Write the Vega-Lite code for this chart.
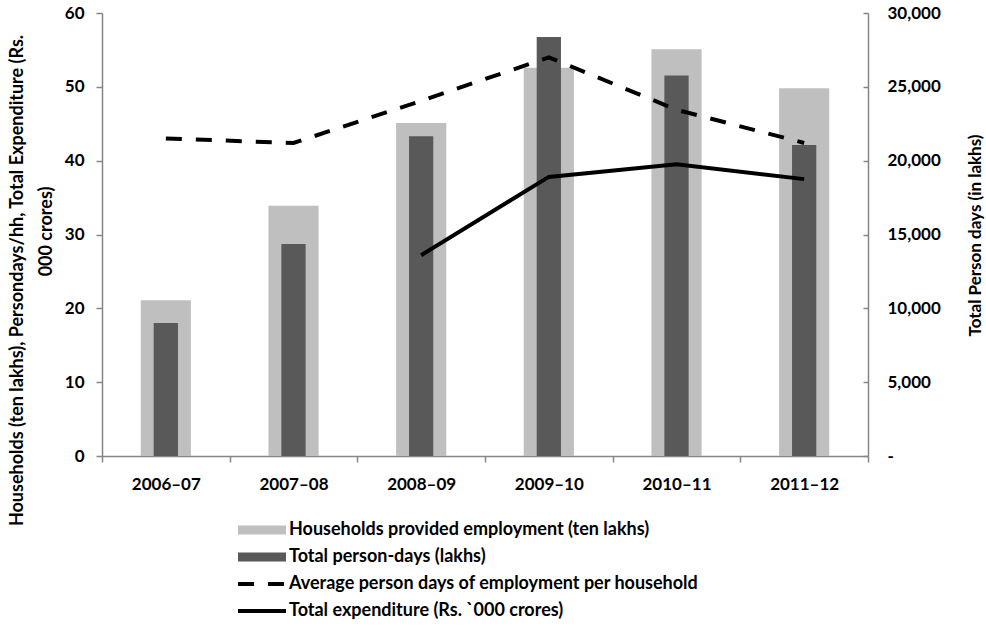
{
  "$schema": "https://vega.github.io/schema/vega-lite/v6.json",
  "width": 766,
  "height": 443,
  "autosize": {"type": "none"},
  "padding": {"left": 102, "top": 13, "right": 118, "bottom": 171},
  "background": "white",
  "config": {
    "view": {"stroke": null},
    "font": "Lato",
    "axis": {
      "labelFont": "Lato",
      "titleFont": "Lato",
      "labelFontWeight": "bold",
      "titleFontWeight": "bold",
      "labelColor": "black",
      "titleColor": "black",
      "domainColor": "#868686",
      "tickColor": "#868686",
      "domainWidth": 1.5,
      "tickWidth": 1.5,
      "grid": false,
      "labelFontSize": 17,
      "titleFontSize": 18
    }
  },
  "data": {
    "values": [
      {"year": "2006–07", "households": 21.1, "persondays": 9000, "avgdays": 43.0, "expenditure": null},
      {"year": "2007–08", "households": 33.9, "persondays": 14350, "avgdays": 42.4, "expenditure": null},
      {"year": "2008–09", "households": 45.1, "persondays": 21650, "avgdays": 48.1, "expenditure": 27.2},
      {"year": "2009–10", "households": 52.6, "persondays": 28380, "avgdays": 54.0, "expenditure": 37.8},
      {"year": "2010–11", "households": 55.1, "persondays": 25760, "avgdays": 46.9, "expenditure": 39.5},
      {"year": "2011–12", "households": 49.8, "persondays": 21060, "avgdays": 42.4, "expenditure": 37.5}
    ]
  },
  "encoding": {
    "x": {
      "field": "year",
      "type": "nominal",
      "sort": null,
      "scale": {"paddingInner": 0, "paddingOuter": 0},
      "axis": {"title": null, "labelAngle": 0, "tickBand": "extent", "tickSize": 6, "labelPadding": 14, "labelFontSize": 17}
    }
  },
  "layer": [
    {
      "mark": {"type": "bar", "width": {"band": 0.393}},
      "encoding": {
        "y": {
          "field": "households",
          "type": "quantitative",
          "scale": {"domain": [0, 60], "nice": false},
          "axis": {
            "orient": "left",
            "values": [0, 10, 20, 30, 40, 50, 60],
            "tickSize": 6,
            "labelPadding": 12,
            "title": "Households (ten lakhs), Persondays/hh, Total Expenditure (Rs.",
            "titleAngle": 270,
            "titleBaseline": "middle",
            "titleAlign": "center",
            "titleX": -85,
            "titleY": 267
          }
        },
        "color": {
          "datum": "Households provided employment (ten lakhs)",
          "type": "nominal",
          "scale": {
            "domain": [
              "Households provided employment (ten lakhs)",
              "Total person-days (lakhs)",
              "Average person days of employment per household",
              "Total expenditure (Rs. `000 crores)"
            ],
            "range": ["#bfbfbf", "#595959", "#000000", "#000000"]
          },
          "legend": {
            "title": null,
            "orient": "none",
            "legendX": 151,
            "legendY": 508,
            "direction": "vertical",
            "columns": 1,
            "gridAlign": "all",
            "labelFont": "Lato",
            "labelFontWeight": "bold",
            "labelFontSize": 18,
            "labelColor": "black",
            "labelLimit": 1000,
            "labelOffset": 18,
            "symbolSize": 144,
            "symbolStrokeWidth": 0,
            "rowPadding": 9,
            "symbolOpacity": 1,
            "encode": {
              "symbols": {
                "update": {
                  "shape": {"signal": "datum.value == 'Households provided employment (ten lakhs)' || datum.value == 'Total person-days (lakhs)' ? 'M-4,-0.75H4V0.75H-4Z' : 'M-4,0H4'"},
                  "fill": {"signal": "datum.value == 'Households provided employment (ten lakhs)' ? '#bfbfbf' : datum.value == 'Total person-days (lakhs)' ? '#595959' : 'transparent'"},
                  "stroke": {"signal": "datum.value == 'Households provided employment (ten lakhs)' || datum.value == 'Total person-days (lakhs)' ? 'transparent' : '#000000'"},
                  "strokeWidth": {"signal": "datum.value == 'Households provided employment (ten lakhs)' || datum.value == 'Total person-days (lakhs)' ? 0 : 4"},
                  "strokeDash": {"signal": "datum.value == 'Average person days of employment per household' ? [16, 14] : [1, 0]"},
                  "opacity": {"value": 1}
                }
              }
            }
          }
        }
      }
    },
    {
      "mark": {"type": "bar", "width": {"band": 0.19}},
      "encoding": {
        "y": {
          "field": "persondays",
          "type": "quantitative",
          "scale": {"domain": [0, 30000], "nice": false},
          "axis": {
            "orient": "right",
            "values": [0, 5000, 10000, 15000, 20000, 25000, 30000],
            "tickSize": -5,
            "labelPadding": 24,
            "labelExpr": "datum.value == 0 ? '-' : format(datum.value, ',')",
            "title": "Total Person days (in lakhs)",
            "titleFontSize": 17,
            "titleAngle": 270,
            "titleBaseline": "middle",
            "titleAlign": "center",
            "titleX": 107,
            "titleY": 222
          }
        },
        "color": {"datum": "Total person-days (lakhs)", "type": "nominal"}
      }
    },
    {
      "mark": {"type": "line", "strokeWidth": 4, "strokeDash": [16, 14]},
      "encoding": {
        "y": {
          "field": "avgdays",
          "type": "quantitative",
          "scale": {"domain": [0, 60], "nice": false},
          "axis": {
            "orient": "left",
            "domain": false,
            "ticks": false,
            "labels": false,
            "title": "000 crores)",
            "titleAngle": 270,
            "titleBaseline": "middle",
            "titleAlign": "center",
            "titleX": -56,
            "titleY": 218
          }
        },
        "color": {"datum": "Average person days of employment per household", "type": "nominal"}
      }
    },
    {
      "transform": [{"filter": "isValid(datum.expenditure)"}],
      "mark": {"type": "line", "strokeWidth": 4},
      "encoding": {
        "y": {
          "field": "expenditure",
          "type": "quantitative",
          "scale": {"domain": [0, 60], "nice": false},
          "axis": null
        },
        "color": {"datum": "Total expenditure (Rs. `000 crores)", "type": "nominal"}
      }
    }
  ],
  "resolve": {"scale": {"y": "independent"}}
}
